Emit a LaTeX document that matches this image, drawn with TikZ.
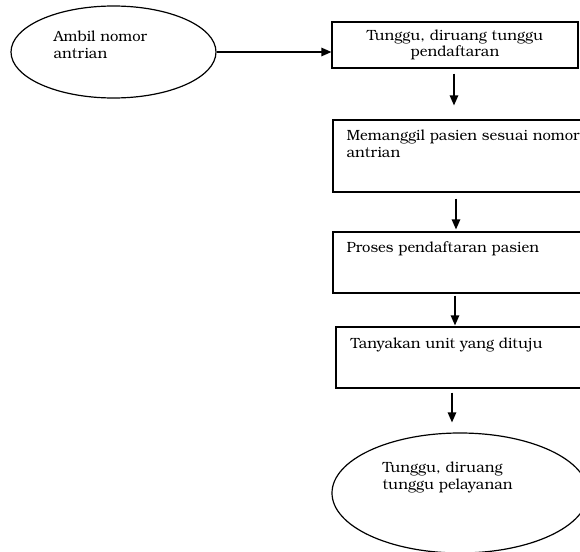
\documentclass[tikz,border=0pt]{standalone}
\usepackage{fontspec}
\setmainfont{texgyrebonum-regular.otf}
\usetikzlibrary{shapes.geometric,arrows.meta,calc}

\begin{document}
\begin{tikzpicture}[x=1pt,y=1pt,line width=1.2pt,font=\fontsize{14.8}{16.5}\selectfont]
            \tikzstyle{kotak}=[draw, rectangle, inner sep=0pt]
            \tikzstyle{elips}=[draw, ellipse, inner sep=0pt]
            \tikzstyle{teks}=[align=left, inner sep=0pt, anchor=base west]
            \tikzstyle{panah}=[-{Triangle[length=10pt,width=8.5pt]}]
            \useasboundingbox (0,0) rectangle (580,-551);
            \clip (0,0) rectangle (580,-551);
            \node [elips, minimum width=205, minimum height=92] (ambil) at (113.5,-52) {};
            \node [teks] (teksambil) at (53,-58) {Ambil nomor\\antrian};
            \node [kotak, minimum width=246, minimum height=46, align=center] (daftar) at (455,-45) {Tunggu, diruang tunggu\\pendaftaran};
            \node [kotak, minimum width=249, minimum height=72] (panggil) at (457.5,-156) {};
            \node [teks] (tekspanggil) at (346,-157) {Memanggil pasien sesuai nomor\\antrian};
            \node [kotak, minimum width=249, minimum height=61] (proses) at (457.5,-262.5) {};
            \node [teks] (teksproses) at (346,-252) {Proses pendaftaran pasien};
            \node [kotak, minimum width=246, minimum height=61] (tanya) at (459,-357.5) {};
            \node [teks] (tekstanya) at (350,-348) {Tanyakan unit yang dituju};
            \node [elips, minimum width=256, minimum height=120] (tunggu) at (460,-493) {};
            \node [teks] (tekstunggu) at (382,-489) {Tunggu, diruang\\tunggu pelayanan};
            \draw [panah] (ambil.east) -- (ambil.east -| daftar.west);
            \draw [panah] ($(daftar.south)+(-1,-5)$) -- ($(daftar.south |- panggil.north)+(-1,14)$);
            \draw [panah] ($(panggil.south)+(-1.5,-6)$) -- ($(panggil.south |- proses.north)+(-1.5,2)$);
            \draw [panah] ($(proses.south)+(-2.5,-2)$) -- ($(proses.south |- tanya.north)+(-2.5,1)$);
            \draw [panah] ($(tanya.south)+(-7,-4)$) -- ($(tanya.south |- tunggu.north)+(-7,10)$);
\end{tikzpicture}
\end{document}
